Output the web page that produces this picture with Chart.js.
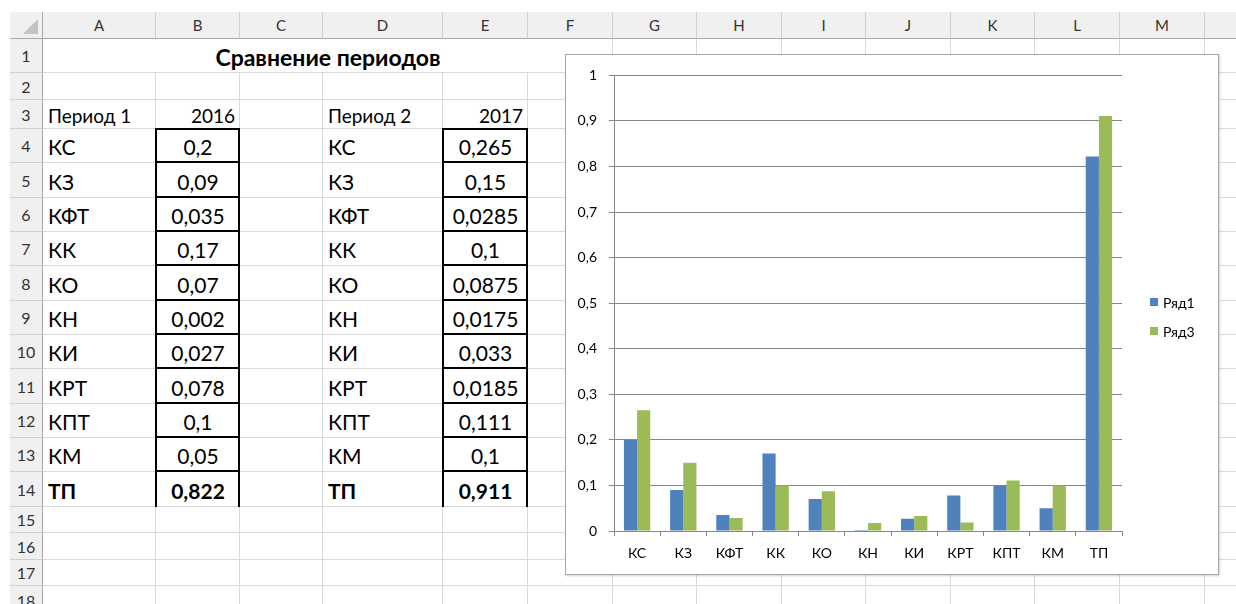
<!DOCTYPE html>
<html lang="ru">
<head>
<meta charset="UTF-8">
<title>Сравнение периодов</title>
<script src="https://cdn.jsdelivr.net/npm/chart.js"></script>
<style>
    body {
        margin: 0;
        width: 1236px;
        height: 604px;
        overflow: hidden;
        background: #fff;
        font-family: Lato, "Open Sans", sans-serif;
    }
    .sheet {
        position: absolute;
        left: 10px;
        top: 12px;
        display: grid;
        grid-template-columns: 33px 113px 84px 83px 120px 85px 85px 84px 85px 84px 85px 84px 85px 85px 40px;
        grid-template-rows: 27px 34px 27px 29px 34px 35px 34px 34px 35px 34px 34px 35px 34px 34px 35px 26px 27px 26px 30px;
    }
    .sheet > div {
        box-sizing: border-box;
        border-right: 1px solid #dadada;
        border-bottom: 1px solid #dadada;
        position: relative;
        white-space: nowrap;
        display: flex;
        align-items: center;
        color: #000;
        font-size: 19px;
        padding: 2px 4px 0 5px;
    }
    .sheet > div.big { font-size: 21px; }
    .sheet > div.hd {
        background: #f0f0f0;
        border-right-color: #cfcfcf;
        border-bottom-color: #cfcfcf;
        color: #333;
        font-size: 16px;
        justify-content: center;
        padding: 0;
    }
    .sheet > div.hd.top { border-bottom-color: #a9a9a9; font-size: 15px; }
    .sheet > div.hd.side { border-right-color: #a9a9a9; }
    .corner::before {
        content: '';
        position: absolute;
        right: 4px;
        bottom: 4px;
        border-left: 15px solid transparent;
        border-bottom: 15px solid #c3c3c3;
    }
    .sheet > div.title { justify-content: center; font-weight: bold; font-size: 23px; }
    .num { justify-content: center; }
    .right { justify-content: flex-end; }
    .bold { font-weight: bold; }
    .bx::after {
        content: '';
        position: absolute;
        left: -1px; right: -1px; top: -1px; bottom: -1px;
        border-left: 2px solid #000;
        border-right: 2px solid #000;
    }
    .bx.bt::after { border-top: 2px solid #000; }
    .bx.bb::after { border-bottom: 2px solid #000; }
    .chartbox {
        position: absolute;
        left: 565px;
        top: 54px;
        width: 652px;
        height: 519px;
        border: 1px solid #a6a6a6;
        box-shadow: 1px 1px 2px rgba(0, 0, 0, 0.18);
        background: #fff;
    }
    .chartbox canvas { position: absolute; left: 0; top: 0; }
    .legend { position: absolute; left: 584px; top: 237px; font-size: 14px; }
    .legend .item { display: flex; align-items: center; height: 20px; margin-bottom: 9px; }
    .legend .sw { width: 8px; height: 8px; margin-right: 5px; }
</style>
</head>
<body>
<div class="sheet" id="sheet"></div>
<div class="chartbox">
    <canvas id="chart" width="652" height="519"></canvas>
    <div class="legend" id="legend"></div>
</div>

<script>
    const categories = ['КС', 'КЗ', 'КФТ', 'КК', 'КО', 'КН', 'КИ', 'КРТ', 'КПТ', 'КМ', 'ТП'];
    const period1 = [0.2, 0.09, 0.035, 0.17, 0.07, 0.002, 0.027, 0.078, 0.1, 0.05, 0.822];
    const period2 = [0.265, 0.15, 0.0285, 0.1, 0.0875, 0.0175, 0.033, 0.0185, 0.111, 0.1, 0.911];
    const seriesNames = ['Ряд1', 'Ряд3'];
    const seriesColors = ['#4F81BD', '#9BBB59'];
    const periodLabels = ['Период 1', 'Период 2'];
    const periodYears = ['2016', '2017'];
    const columnLetters = ['A', 'B', 'C', 'D', 'E', 'F', 'G', 'H', 'I', 'J', 'K', 'L', 'M', ''];
    const yTicks = [0, 0.1, 0.2, 0.3, 0.4, 0.5, 0.6, 0.7, 0.8, 0.9, 1];

    const fmt = v => String(v).replace('.', ',');

    // spreadsheet
    const sheet = document.getElementById('sheet');
    function cell(text, cls) {
        const d = document.createElement('div');
        if (cls) d.className = cls;
        if (text !== undefined && text !== '') d.textContent = text;
        sheet.appendChild(d);
        return d;
    }

    cell('', 'hd top side corner');
    columnLetters.forEach(l => cell(l, 'hd top'));

    const nRows = 18;
    for (let r = 1; r <= nRows; r++) {
        cell(String(r), 'hd side');
        if (r === 1) {
            const t = cell('Сравнение периодов', 'title');
            t.style.gridColumn = 'span 6';
            for (let c = 6; c < columnLetters.length; c++) cell('');
            continue;
        }
        const row = [];
        for (let c = 0; c < columnLetters.length; c++) row.push(['', '']);
        if (r === 3) {
            row[0] = [periodLabels[0], ''];
            row[1] = [periodYears[0], 'right'];
            row[3] = [periodLabels[1], ''];
            row[4] = [periodYears[1], 'right'];
        }
        const i = r - 4;
        if (i >= 0 && i < categories.length) {
            const last = i === categories.length - 1;
            const b = last ? ' bold' : '';
            const box = 'big num bx' + b + (i === 0 ? ' bt' : '') + (last ? '' : ' bb');
            row[0] = [categories[i], 'big' + b];
            row[1] = [fmt(period1[i]), box];
            row[3] = [categories[i], 'big' + b];
            row[4] = [fmt(period2[i]), box];
        }
        row.forEach(([t, c]) => cell(t, c));
    }

    // legend
    const legend = document.getElementById('legend');
    seriesNames.forEach((name, k) => {
        const it = document.createElement('div');
        it.className = 'item';
        it.innerHTML = '<span class="sw" style="background:' + seriesColors[k] + '"></span>' + name;
        legend.appendChild(it);
    });

    // chart
    const axisGray = '#868686';
    const font = { family: 'Lato', size: 14 };
    new Chart(document.getElementById('chart').getContext('2d'), {
        type: 'bar',
        data: {
            labels: categories,
            datasets: [
                { label: seriesNames[0], data: period1, backgroundColor: seriesColors[0] },
                { label: seriesNames[1], data: period2, backgroundColor: seriesColors[1] }
            ]
        },
        options: {
            responsive: false,
            animation: false,
            layout: { padding: { top: 18, right: 96, left: 0, bottom: 0 } },
            plugins: { legend: { display: false }, tooltip: { enabled: false } },
            datasets: { bar: { categoryPercentage: 0.57, barPercentage: 1 } },
            scales: {
                x: {
                    grid: { offset: true, drawOnChartArea: false, tickLength: 5, color: axisGray },
                    border: { color: axisGray },
                    ticks: { color: '#000', font: font, padding: 9, maxRotation: 0, autoSkip: false },
                    afterFit: s => { s.height = 43; }
                },
                y: {
                    min: 0,
                    max: 1,
                    afterBuildTicks: s => { s.ticks = yTicks.map(v => ({ value: v })); },
                    ticks: { color: '#000', font: font, padding: 12, callback: v => fmt(Math.round(v * 10) / 10) },
                    grid: { color: axisGray, tickLength: 5 },
                    border: { color: axisGray },
                    afterFit: s => { s.width = 48; }
                }
            }
        }
    });
</script>
</body>
</html>
